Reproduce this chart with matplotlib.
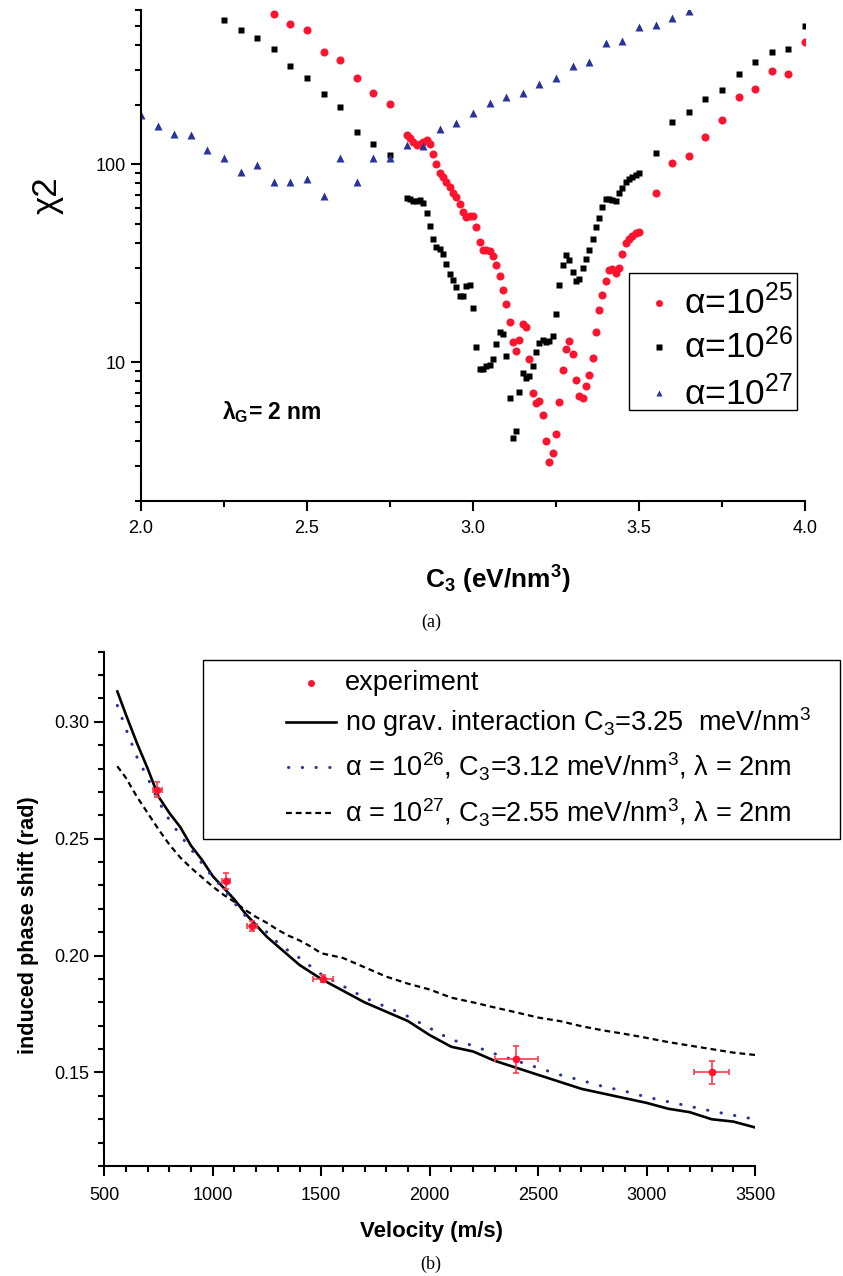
import matplotlib
matplotlib.use("Agg")
import matplotlib.pyplot as plt
from matplotlib import font_manager
from matplotlib.ticker import FixedLocator, NullFormatter, FuncFormatter, MultipleLocator, LogLocator
from matplotlib.lines import Line2D
from matplotlib.patches import Rectangle

plt.rcParams['font.family'] = ['Liberation Sans', 'DejaVu Sans']
plt.rcParams['mathtext.fontset'] = 'custom'
plt.rcParams['mathtext.rm'] = 'Liberation Sans'
plt.rcParams['mathtext.it'] = 'Liberation Sans:italic'
plt.rcParams['mathtext.bf'] = 'Liberation Sans:bold'

_names = {f.name for f in font_manager.fontManager.ttflist}
NARROW = 'Liberation Sans Narrow' in _names
LAB_FAMILY = ['Liberation Sans Narrow', 'Liberation Sans'] if NARROW else ['Liberation Sans']
LAB_SCALE = 1.0 if NARROW else 0.82

# ---------------- panel (a) data ----------------
c3_red = [2.40, 2.45, 2.50, 2.55, 2.60, 2.65, 2.70, 2.75,
          2.80, 2.81, 2.82, 2.83, 2.84, 2.85, 2.86, 2.87, 2.88, 2.89,
          2.90, 2.91, 2.92, 2.93, 2.94, 2.95, 2.96, 2.97, 2.98, 2.99,
          3.00, 3.01, 3.02, 3.03, 3.04, 3.05, 3.06, 3.07, 3.08, 3.09,
          3.10, 3.11, 3.12, 3.13, 3.14, 3.15, 3.16, 3.17, 3.18, 3.19,
          3.20, 3.21, 3.22, 3.23, 3.24, 3.25, 3.26, 3.27, 3.28, 3.29,
          3.30, 3.31, 3.32, 3.33, 3.34, 3.35, 3.36, 3.37, 3.38, 3.39,
          3.40, 3.41, 3.42, 3.43, 3.44, 3.45, 3.46, 3.47, 3.48, 3.49,
          3.50, 3.55, 3.60, 3.65, 3.70, 3.75, 3.80, 3.85, 3.90, 3.95, 4.00]
chi2_a25 = [576, 509, 475, 369, 336, 273, 228, 202,
            141, 135, 130, 125, 126, 129, 133, 127, 113, 100,
            90.7, 86, 81.7, 76.5, 71.9, 68.1, 63.2, 57.4, 54.4, 54.8,
            55.0, 48.4, 40.4, 36.9, 36.9, 36.5, 34.5, 31.0, 27.2, 23.3,
            19.6, 16.0, 12.6, 11.4, 12.96, 15.7, 15.1, 10.4, 6.97, 6.21,
            6.37, 5.40, 4.00, 3.13, 3.49, 4.36, 6.28, 9.14, 11.7, 12.85,
            11.0, 8.14, 6.76, 6.63, 7.59, 8.60, 10.5, 14.2, 18.4, 21.8,
            25.7, 29.3, 29.5, 28.1, 30.0, 35.4, 40.2, 42.0, 43.6, 44.8,
            45.7, 71.4, 102, 110, 138, 167, 219, 239, 297, 287, 413]

c3_black = [2.25, 2.30, 2.35, 2.40, 2.45, 2.50, 2.55, 2.60, 2.65, 2.70, 2.75,
            2.80, 2.81, 2.82, 2.83, 2.84, 2.85, 2.86, 2.87, 2.88, 2.89,
            2.90, 2.91, 2.92, 2.93, 2.94, 2.95, 2.96, 2.97, 2.98, 2.99,
            3.00, 3.01, 3.02, 3.03, 3.04, 3.05, 3.06, 3.07, 3.08, 3.09,
            3.10, 3.11, 3.12, 3.13, 3.14, 3.15, 3.16, 3.17, 3.18, 3.19,
            3.20, 3.21, 3.22, 3.23, 3.24, 3.25, 3.26, 3.27, 3.28, 3.29,
            3.30, 3.31, 3.32, 3.33, 3.34, 3.35, 3.36, 3.37, 3.38, 3.39,
            3.40, 3.41, 3.42, 3.43, 3.44, 3.45, 3.46, 3.47, 3.48, 3.49,
            3.50, 3.55, 3.60, 3.65, 3.70, 3.75, 3.80, 3.85, 3.90, 3.95, 4.00]
chi2_a26 = [534, 478, 433, 381, 312, 274, 226, 195, 146, 127, 111,
            67.3, 66.6, 65.3, 65.0, 66.0, 63.5, 57.0, 49.0, 42.1, 38.4,
            37.5, 35.2, 31.5, 28.0, 26.1, 23.9, 21.6, 21.7, 24.3, 24.7,
            18.7, 11.9, 9.28, 9.22, 9.61, 9.69, 10.4, 12.3, 14.3, 13.9,
            10.7, 6.63, 4.15, 4.48, 7.06, 8.86, 8.36, 8.50, 9.54, 11.3,
            12.5, 12.96, 12.6, 12.8, 13.5, 17.6, 24.5, 31.1, 34.7, 32.7,
            28.6, 25.8, 26.4, 30.0, 33.1, 36.9, 42.1, 48.1, 53.8, 60.7,
            66.8, 66.8, 66.0, 65.5, 71.4, 76.2, 81.1, 84.0, 86.6, 88.3,
            90.4, 114, 164, 184, 214, 237, 286, 329, 370, 383, 499]

c3_blue = [2.00, 2.05, 2.10, 2.15, 2.20, 2.25, 2.30, 2.35, 2.40, 2.45,
           2.50, 2.55, 2.60, 2.65, 2.70, 2.75, 2.80, 2.85, 2.90, 2.95,
           3.00, 3.05, 3.10, 3.15, 3.20, 3.25, 3.30, 3.35, 3.40, 3.45,
           3.50, 3.55, 3.60, 3.65]
chi2_a27 = [177, 156, 143, 140, 118, 107, 91.7, 98.8, 81.7, 81.5,
            84.6, 69.4, 107, 81.5, 107, 108, 125, 124, 150, 162,
            182, 204, 219, 229, 254, 273, 314, 329, 408, 418,
            495, 504, 550, 594]

labels_a = [r'α=10$^{25}$', r'α=10$^{26}$', r'α=10$^{27}$']
xticks_a = [2.0, 2.5, 3.0, 3.5, 4.0]

# ---------------- panel (b) data ----------------
exp_v = [744, 1061, 1180, 1508, 2399, 3300]
exp_phase = [0.271, 0.232, 0.2127, 0.190, 0.1557, 0.150]
exp_verr = [20, 20, 23, 45, 100, 81]
exp_perr = [0.0033, 0.0034, 0.002, 0.0015, 0.0058, 0.0048]

v_grid = [560, 600, 650, 700, 750, 800, 850, 900, 950, 1000, 1050, 1100, 1150,
          1200, 1250, 1300, 1350, 1400, 1450, 1500, 1600, 1700, 1800, 1900, 2000,
          2100, 2200, 2300, 2400, 2500, 2600, 2700, 2800, 2900, 3000, 3100, 3200,
          3300, 3400, 3500]
phase_nograv = [0.313, 0.303, 0.291, 0.280, 0.268, 0.261, 0.255, 0.247, 0.241, 0.234,
                0.229, 0.224, 0.218, 0.213, 0.208, 0.204, 0.200, 0.196, 0.193, 0.190,
                0.185, 0.180, 0.176, 0.172, 0.166, 0.161, 0.159, 0.155, 0.152, 0.149,
                0.146, 0.143, 0.141, 0.139, 0.137, 0.1345, 0.133, 0.130, 0.129, 0.1265]
phase_a26 = [0.307, 0.297, 0.285, 0.276, 0.266, 0.258, 0.2515, 0.2455, 0.2395, 0.2335,
             0.2285, 0.2225, 0.217, 0.213, 0.210, 0.2055, 0.202, 0.199, 0.1955, 0.192,
             0.187, 0.182, 0.178, 0.174, 0.169, 0.164, 0.1615, 0.158, 0.155, 0.152,
             0.149, 0.1466, 0.144, 0.142, 0.1395, 0.1375, 0.1355, 0.1335, 0.1317, 0.130]
phase_a27 = [0.281, 0.276, 0.268, 0.261, 0.254, 0.2475, 0.242, 0.2375, 0.2335, 0.2295,
             0.226, 0.223, 0.2195, 0.2165, 0.214, 0.211, 0.2085, 0.2065, 0.204, 0.201,
             0.199, 0.195, 0.191, 0.188, 0.1855, 0.182, 0.180, 0.1778, 0.1757, 0.1735,
             0.172, 0.1698, 0.168, 0.1665, 0.1648, 0.163, 0.1615, 0.160, 0.1585, 0.1575]
labels_b = ['experiment',
            r'no grav. interaction C$_3$=3.25  meV/nm$^3$',
            r'α = 10$^{26}$, C$_3$=3.12 meV/nm$^3$, λ = 2nm',
            r'α = 10$^{27}$, C$_3$=2.55 meV/nm$^3$, λ = 2nm']

RED = '#ff1430'
BLUE = '#28349a'
W, H = 843, 1276


def fx(px):
    return px / W


def fy(py):
    return 1 - py / H


fig = plt.figure(figsize=(8.43, 12.76), dpi=100)

# ================= panel (a) =================
ax1 = fig.add_axes([fx(141), fy(500.7), fx(805) - fx(141), fy(10.2) - fy(500.7)])
ax1.set_yscale('log')
ax1.plot(c3_red, chi2_a25, 'o', color=RED, ms=5.8, mec='none')
ax1.plot(c3_black, chi2_a26, 's', color='black', ms=5.0, mec='none')
ax1.plot(c3_blue, chi2_a27, '^', color=BLUE, ms=6.2, mec='none')
ax1.set_xlim(2.0, 4.0)
ax1.set_ylim(2, 600)
for s in ['top', 'right']:
    ax1.spines[s].set_visible(False)
for s in ['left', 'bottom']:
    ax1.spines[s].set_linewidth(1.5)
ax1.xaxis.set_major_locator(FixedLocator(xticks_a))
ax1.xaxis.set_minor_locator(MultipleLocator(0.25))
ax1.xaxis.set_major_formatter(FuncFormatter(lambda v, p: f'{v:.1f}'))
ax1.yaxis.set_major_locator(LogLocator(base=10, numticks=10))
ax1.yaxis.set_minor_locator(LogLocator(base=10, subs=range(2, 10), numticks=10))
ax1.yaxis.set_major_formatter(FuncFormatter(lambda v, p: f'{v:g}'))
ax1.yaxis.set_minor_formatter(NullFormatter())
ax1.tick_params(axis='x', which='major', direction='out', length=7, width=1.5,
                labelsize=13, pad=7)
ax1.tick_params(axis='y', which='major', direction='out', length=7, width=1.5,
                labelsize=13, pad=4)
ax1.tick_params(which='minor', direction='out', length=4, width=1.5)
fig.text(fx(498), fy(580), r'C$_\mathbf{3}$ (eV/nm$^\mathbf{3}$)', fontsize=23 * LAB_SCALE,
         fontweight='bold', family=LAB_FAMILY, ha='center', va='center')
fig.text(fx(47), fy(195), 'χ2', fontsize=25, rotation=90, ha='center', va='center')
fig.text(fx(222), fy(412), r'λ$_\mathbf{G}$= 2 nm', fontsize=16.5,
         fontweight='bold', va='center', ha='left')

# manual legend (a)
fig.add_artist(Rectangle((fx(629), fy(410)), fx(797) - fx(629), fy(273) - fy(410),
                         transform=fig.transFigure, fill=True, facecolor='white',
                         edgecolor='black', lw=1.0, zorder=5))
leg_rows_a = [302.7, 346.7, 393.3]
leg_marks_a = [('o', RED, 5.0), ('s', 'black', 4.2), ('^', BLUE, 5.0)]
for row, (m, c, ms), lab in zip(leg_rows_a, leg_marks_a, labels_a):
    fig.add_artist(Line2D([fx(659)], [fy(row)], marker=m, color=c, ms=ms, mec='none',
                          ls='none', transform=fig.transFigure, zorder=6))
    fig.text(fx(684), fy(row), lab, fontsize=25.5, va='center', ha='left', zorder=6)

fig.text(fx(431), fy(622), '(a)', ha='center', va='center', fontsize=13,
         family='Liberation Serif')

# ================= panel (b) =================
ax2 = fig.add_axes([fx(104.3), fy(1166), fx(755) - fx(104.3), fy(651.7) - fy(1166)])
DOT = (0, (0.1, 4.4))
DASH = (0, (2.6, 1.8))
ax2.plot(v_grid, phase_nograv, '-', color='black', lw=1.9)
ax2.plot(v_grid, phase_a26, linestyle=DOT, color=BLUE, lw=2.2, dash_capstyle='round')
ax2.plot(v_grid, phase_a27, linestyle=DASH, color='black', lw=1.6)
ax2.errorbar(exp_v, exp_phase, xerr=exp_verr, yerr=exp_perr, fmt='o', color=RED,
             ms=5.5, mec='none', ecolor='#ff3a4a', elinewidth=1.2, capsize=2.5,
             capthick=1.2, zorder=5)
ax2.set_xlim(500, 3500)
ax2.set_ylim(0.11, 0.33)
for s in ['top', 'right']:
    ax2.spines[s].set_visible(False)
for s in ['left', 'bottom']:
    ax2.spines[s].set_linewidth(1.5)
ax2.xaxis.set_major_locator(MultipleLocator(500))
ax2.xaxis.set_minor_locator(MultipleLocator(100))
ax2.yaxis.set_major_locator(FixedLocator([0.15, 0.20, 0.25, 0.30]))
ax2.yaxis.set_minor_locator(MultipleLocator(0.01))
ax2.yaxis.set_major_formatter(FuncFormatter(lambda v, p: f'{v:.2f}'))
ax2.tick_params(axis='x', which='major', direction='out', length=7, width=1.5,
                labelsize=13, pad=8)
ax2.tick_params(axis='y', which='major', direction='out', length=7, width=1.5,
                labelsize=13, pad=4)
ax2.tick_params(which='minor', direction='out', length=4, width=1.5)
fig.text(fx(431), fy(1232), 'Velocity (m/s)', fontsize=19.5 * LAB_SCALE, fontweight='bold',
         family=LAB_FAMILY, ha='center', va='center')
fig.text(fx(29), fy(925), 'induced phase shift (rad)', fontsize=19 * LAB_SCALE,
         fontweight='bold', family=LAB_FAMILY, rotation=90, ha='center', va='center')

# manual legend (b)
fig.add_artist(Rectangle((fx(203), fy(839)), fx(840) - fx(203), fy(660) - fy(839),
                         transform=fig.transFigure, fill=True, facecolor='white',
                         edgecolor='black', lw=1.0, zorder=5))
leg_rows_b = [683, 722, 767, 813]
fig.add_artist(Line2D([fx(311)], [fy(leg_rows_b[0])], marker='o', color=RED, ms=5,
                      mec='none', ls='none', transform=fig.transFigure, zorder=6))
fig.add_artist(Line2D([fx(286), fx(336)], [fy(leg_rows_b[1])] * 2, color='black', lw=1.9,
                      transform=fig.transFigure, zorder=6))
fig.add_artist(Line2D([fx(288), fx(332)], [fy(leg_rows_b[2])] * 2, color=BLUE, lw=2.2,
                      linestyle=DOT, dash_capstyle='round', transform=fig.transFigure,
                      zorder=6))
fig.add_artist(Line2D([fx(286), fx(334)], [fy(leg_rows_b[3])] * 2, color='black', lw=1.6,
                      linestyle=DASH, transform=fig.transFigure, zorder=6))
for row, lab in zip(leg_rows_b, labels_b):
    fig.text(fx(345), fy(row), lab, fontsize=19.5, va='center', ha='left', zorder=6)

fig.text(fx(431), fy(1264), '(b)', ha='center', va='center', fontsize=13,
         family='Liberation Serif')

fig.savefig('out.png', dpi=100)
